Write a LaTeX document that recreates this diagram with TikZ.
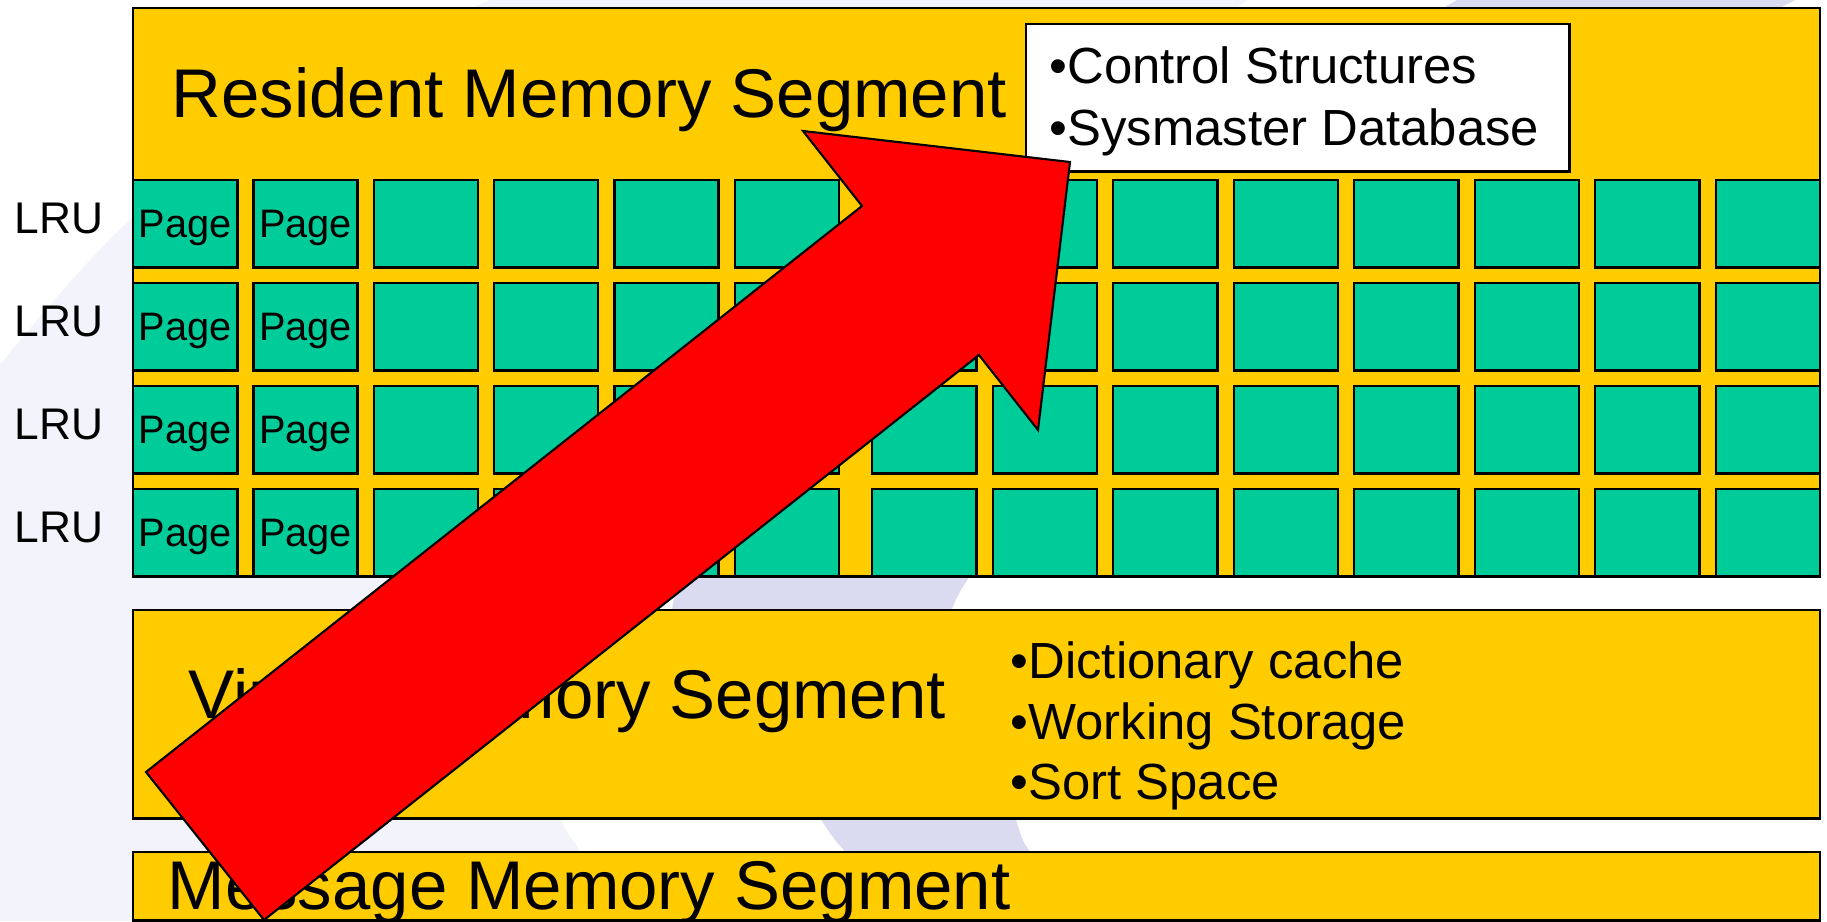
\documentclass[tikz,border=0pt]{standalone}
\usepackage{fontspec}
\setmainfont{Liberation Sans}
\definecolor{segyellow}{RGB}{255,204,0}
\definecolor{pagegreen}{RGB}{0,204,153}
\definecolor{bglight}{RGB}{243,243,252}
\definecolor{bgdark}{RGB}{218,218,240}
\definecolor{arrowred}{RGB}{255,0,0}
\begin{document}
\begin{tikzpicture}[x=0.01cm,y=-0.01cm,
  seg/.style={draw=black, line width=0.7pt, fill=segyellow, anchor=north west, inner sep=0pt, minimum width=16.86cm},
  cell/.style={draw=black, line width=0.7pt, fill=pagegreen, anchor=north west, inner sep=0pt,
    minimum width=1.04cm, minimum height=0.87cm, text depth=0pt, font=\fontsize{11.3pt}{13pt}\selectfont},
  infobox/.style={draw=black, line width=0.7pt, fill=white, anchor=north west, inner sep=0pt},
  title/.style={anchor=base west, inner sep=0pt, font=\fontsize{19.6pt}{23pt}\selectfont},
  bul/.style={anchor=base west, inner sep=0pt, font=\fontsize{14.45pt}{17.6pt}\selectfont},
  lru/.style={anchor=base west, inner sep=0pt, font=\fontsize{12.6pt}{15pt}\selectfont},
  bigarrow/.style={fill=arrowred, draw=black, line width=0.6pt, line join=miter}
]
\useasboundingbox (0,0) rectangle (1827,921);
\fill[white] (0,0) rectangle (1827,921);
% background swoosh decoration
\fill[bglight] plot[smooth, tension=0.6] coordinates {(0,365) (130,220) (300,95) (490,0)}
  -- (1247,0)
  -- plot[smooth, tension=0.6] coordinates {(1247,0) (930,270) (665,592) (575,730) (560,812) (583,857) (605,921)}
  -- (0,921) -- cycle;
\fill[bgdark] (1457,0) -- (1795,0)
  -- plot[smooth, tension=0.6] coordinates {(1795,0) (1330,270) (961,590) (1014,812) (1031,857) (1042,921)}
  -- (880,921)
  -- plot[smooth, tension=0.6] coordinates {(880,921) (848,857) (816,812) (676,592) (1000,290) (1457,0)}
  -- cycle;

% segments
\node[seg, minimum height=5.68cm] (res) at (132,7) {};
\node[seg, minimum height=2.08cm] (virt) at (132,609) {};
\node[seg, minimum height=0.68cm] (msg) at (132,851) {};

% page grid
\foreach \r in {1,...,4} {
  \foreach \c in {1,...,14} {
    \pgfmathsetmacro\xx{\c<7 ? 132+(\c-1)*120.3 : 871+(\c-7)*120.5}
    \pgfmathsetmacro\yy{179+(\r-1)*103}
    \node[cell] (p\r-\c) at (\xx,\yy) {\ifnum\c<3 Page\fi};
  }
  \pgfmathsetmacro\ly{233+(\r-1)*103}
  \node[lru] (lru\r) at (14,\ly) {LRU};
}

% titles
\node[title] (restitle) at (171,117) {Resident Memory Segment};
\node[title] (virttitle) at (188,718) {Virtual Memory Segment};
\node[title] (msgtitle) at (167,909) {Message Memory Segment};

% info box in resident segment
\node[infobox, minimum width=5.43cm, minimum height=1.47cm] (ctrlbox) at (1025,23) {};
\node[bul] (ctrl1) at (1049,83) {•Control Structures};
\node[bul] (ctrl2) at (1049,145) {•Sysmaster Database};

% virtual segment bullets
\node[bul] (v1) at (1010,678) {•Dictionary cache};
\node[bul] (v2) at (1010,739) {•Working Storage};
\node[bul] (v3) at (1010,799) {•Sort Space};

% big red arrow
\draw[bigarrow] (146,772) -- (862,206) -- (803,131) -- (1070,162) -- (1038,430) -- (979,355) -- (264,920) -- cycle;
\end{tikzpicture}
\end{document}
